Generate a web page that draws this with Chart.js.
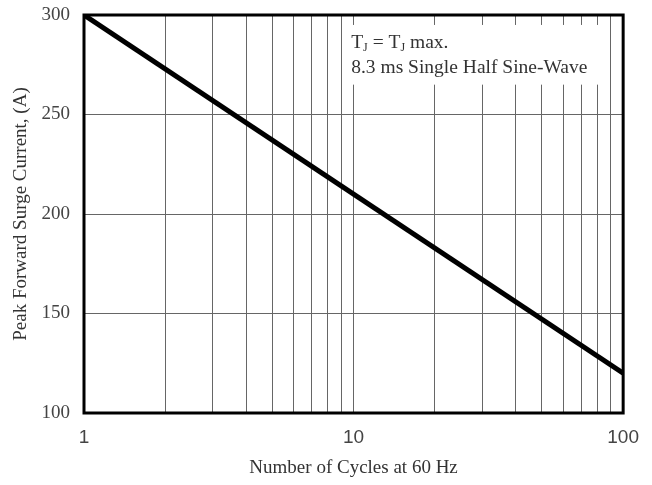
<!DOCTYPE html>
<html>
<head>
<meta charset="utf-8">
<script src="https://cdn.jsdelivr.net/npm/chart.js@4/dist/chart.umd.min.js"></script>
<style>
  html, body { margin: 0; padding: 0; background: #fff; }
  #wrap { width: 652px; height: 485px; }
</style>
</head>
<body>
<div id="wrap"><canvas id="surgeChart"></canvas></div>
<script>
// surge current vs number of cycles
var cycles = [1, 10, 100];
var surgeCurrent = [300, 210, 120];
var xGridValues = [1, 2, 3, 4, 5, 6, 7, 8, 9, 10, 20, 30, 40, 50, 60, 70, 80, 90, 100];
var xLabelValues = [1, 10, 100];
var yTicks = [100, 150, 200, 250, 300];
var noteLines = ['T_J = T_J max.', '8.3 ms Single Half Sine-Wave'];

var serif = '"Liberation Serif", "Times New Roman", serif';
var sans = '"Liberation Sans", Arial, sans-serif';

// white note box over the grid, plus the subscript text
var notePlugin = {
    id: 'noteBox',
    beforeDatasetsDraw: function (chart) {
        var ctx = chart.ctx;
        var x = chart.scales.x, y = chart.scales.y;
        var left = x.getPixelForValue(9.1), right = x.getPixelForValue(85.8);
        var top = y.getPixelForValue(295), bottom = y.getPixelForValue(265);
        ctx.save();
        ctx.fillStyle = '#fff';
        ctx.fillRect(left, top, right - left, bottom - top);

        ctx.fillStyle = '#333';
        ctx.textBaseline = 'alphabetic';
        var tx = x.getPixelForValue(9.8);
        var base1 = y.getPixelForValue(283.4);
        var base2 = y.getPixelForValue(270.9);
        var big = '19.5px ' + serif, small = '12px ' + serif;

        // first line with subscripts
        var parts = noteLines[0].split(/(_J)/);
        var cx = tx;
        parts.forEach(function (p) {
            if (p === '_J') {
                ctx.font = small;
                ctx.fillText('J', cx, base1 + 3);
                cx += ctx.measureText('J').width;
            } else {
                ctx.font = big;
                ctx.fillText(p, cx, base1);
                cx += ctx.measureText(p).width;
            }
        });
        ctx.font = big;
        ctx.fillText(noteLines[1], tx, base2);
        ctx.restore();
    },
    afterDraw: function (chart) {
        var a = chart.chartArea, ctx = chart.ctx;
        ctx.save();
        ctx.strokeStyle = '#000';
        ctx.lineWidth = 3;
        ctx.strokeRect(a.left, a.top, a.right - a.left, a.bottom - a.top);
        ctx.restore();
    }
};

var ctx = document.getElementById('surgeChart').getContext('2d');
var points = cycles.map(function (c, i) { return { x: c, y: surgeCurrent[i] }; });

new Chart(ctx, {
    type: 'line',
    data: {
        datasets: [{
            data: points,
            borderColor: '#000',
            borderWidth: 5,
            pointRadius: 0,
            fill: false,
            tension: 0
        }]
    },
    options: {
        responsive: true,
        maintainAspectRatio: false,
        animation: false,
        layout: { padding: { left: 0, right: 28, top: 15, bottom: 0 } },
        plugins: {
            legend: { display: false },
            tooltip: { enabled: false }
        },
        scales: {
            x: {
                type: 'logarithmic',
                min: 1,
                max: 100,
                afterBuildTicks: function (scale) {
                    scale.ticks = xGridValues.map(function (v) { return { value: v }; });
                },
                afterFit: function (scale) { scale.height = 72; },
                grid: { color: '#666', lineWidth: 1, drawTicks: false },
                border: { display: false },
                ticks: {
                    autoSkip: false,
                    maxRotation: 0,
                    minRotation: 0,
                    padding: 13,
                    color: '#444',
                    font: { family: sans, size: 19 },
                    callback: function (v) {
                        return xLabelValues.indexOf(v) >= 0 ? String(v) : '';
                    }
                },
                title: {
                    display: true,
                    text: 'Number of Cycles at 60 Hz',
                    color: '#333',
                    font: { family: serif, size: 19 },
                    padding: { top: 0, bottom: 6 }
                }
            },
            y: {
                min: 100,
                max: 300,
                afterBuildTicks: function (scale) {
                    scale.ticks = yTicks.map(function (v) { return { value: v }; });
                },
                afterFit: function (scale) {
                    scale.width = 84;
                    // keep the plot top where the layout padding puts it
                    scale.paddingTop = 0;
                    scale.paddingBottom = 0;
                },
                grid: { color: '#666', lineWidth: 1, drawTicks: false },
                border: { display: false },
                ticks: {
                    padding: 14,
                    color: '#444',
                    font: { family: serif, size: 19 }
                },
                title: {
                    display: true,
                    text: 'Peak Forward Surge Current, (A)',
                    color: '#333',
                    font: { family: serif, size: 19 },
                    padding: { top: 10, bottom: 0 }
                }
            }
        }
    },
    plugins: [notePlugin]
});
</script>
</body>
</html>
